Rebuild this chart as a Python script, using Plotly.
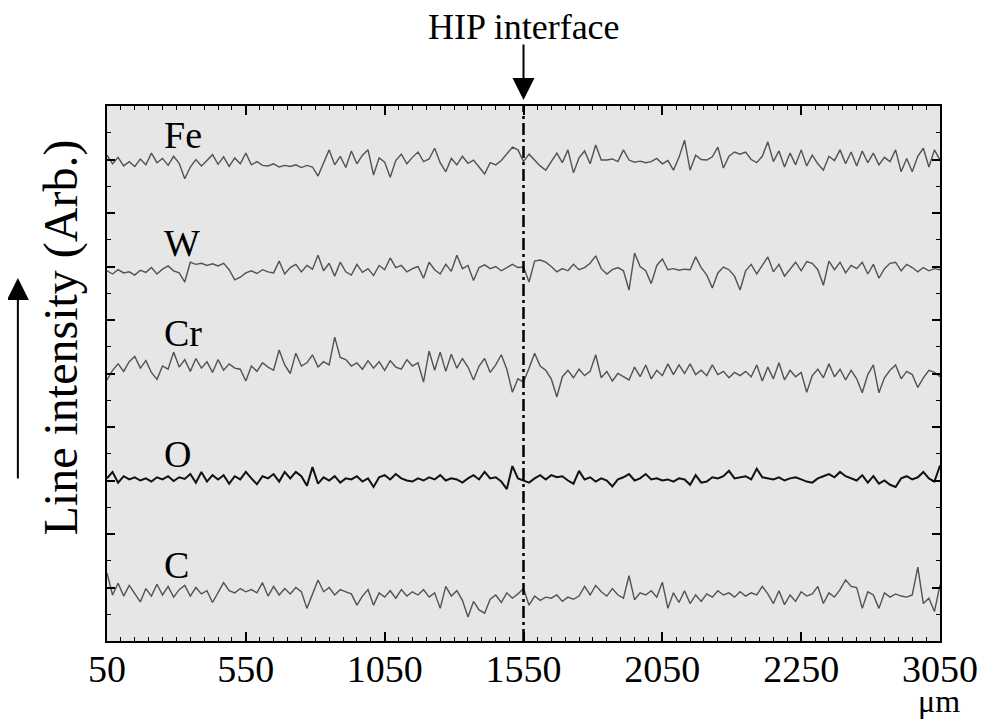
import plotly.graph_objects as go

# EPMA line scan across the HIP interface (arbitrary intensity, traces stacked)
positions = list(range(50, 3051, 20))  # um

fe = [90.8, 89.2, 90.4, 88.8, 89.6, 88.7, 90.1, 89.0, 91.2, 89.4,
      90.2, 88.9, 90.6, 89.3, 86.4, 88.6, 90.0, 88.8, 89.8, 90.9,
      89.1, 90.5, 88.7, 90.3, 89.2, 91.2, 89.0, 89.6, 88.9, 88.8,
      89.2, 88.6, 88.9, 88.7, 89.0, 88.5, 88.9, 88.6, 86.9, 89.4,
      91.8, 89.0, 90.6, 88.5, 91.6, 89.2, 90.8, 91.8, 87.1, 90.3,
      89.5, 86.7, 89.8, 91.0, 89.2, 90.4, 91.4, 89.6, 90.1, 92.1,
      89.4, 87.7, 90.2, 89.0, 90.6, 89.3, 89.9, 88.6, 87.3, 89.4,
      89.0, 89.8, 91.0, 92.3, 91.8, 89.6, 91.0, 89.8, 88.8, 88.0,
      89.6, 91.2, 89.4, 91.8, 87.5, 90.3, 91.6, 89.2, 92.7, 89.9,
      89.9, 90.1, 89.6, 91.8, 89.9, 89.5, 89.7, 89.4, 89.6, 90.2,
      89.2, 89.8, 88.0, 90.4, 93.6, 88.0, 90.8, 90.0, 89.9, 90.5,
      92.3, 88.4, 90.6, 91.4, 91.0, 91.4, 90.0, 89.4, 90.6, 93.3,
      89.6, 91.6, 88.6, 91.2, 89.0, 91.8, 88.8, 90.8, 89.2, 88.0,
      90.6, 89.8, 91.8, 89.2, 91.4, 88.8, 91.6, 89.4, 91.2, 89.0,
      90.4, 89.6, 91.8, 87.7, 90.2, 87.7, 90.6, 92.1, 88.6, 91.8,
      89.9]

w = [69.2, 68.6, 69.4, 68.8, 69.0, 68.4, 69.3, 68.9, 69.8, 68.6,
     69.5, 70.1, 69.2, 68.8, 67.1, 70.8, 70.4, 70.6, 70.2, 70.5,
     70.1, 70.6, 69.4, 67.5, 68.0, 68.8, 69.2, 68.7, 69.4, 69.0,
     68.8, 71.0, 68.6, 69.8, 70.4, 69.0, 70.2, 69.5, 72.1, 69.2,
     70.6, 68.2, 70.8, 69.0, 68.4, 70.4, 68.9, 69.6, 68.3, 70.2,
     69.4, 71.6, 69.8, 70.2, 69.0, 69.6, 70.0, 67.8, 70.8, 69.4,
     68.6, 70.4, 69.1, 72.1, 69.6, 70.2, 67.4, 69.8, 70.3, 69.6,
     70.0, 69.2, 69.8, 70.4, 69.8, 69.9, 67.1, 71.0, 71.2, 70.8,
     70.0, 69.0, 69.6, 69.2, 70.4, 69.4, 69.8, 70.6, 72.0, 69.6,
     68.6, 69.4, 69.8, 69.2, 65.6, 72.5, 70.0, 69.2, 66.8, 70.2,
     71.4, 69.4, 69.6, 69.3, 69.5, 69.4, 71.8, 69.8, 68.4, 66.0,
     68.8, 69.9, 69.4, 68.2, 65.6, 69.2, 70.4, 68.6, 70.2, 71.8,
     69.0, 70.4, 68.2, 69.6, 70.8, 69.2, 70.9, 70.6, 69.4, 66.5,
     71.0, 69.4, 70.8, 68.8, 70.2, 69.6, 70.8, 68.6, 70.4, 67.8,
     69.6, 70.6, 70.8, 69.2, 70.4, 69.8, 69.0, 69.8, 69.2, 69.6,
     69.4]

cr = [48.8, 50.6, 51.8, 50.4, 52.2, 53.2, 51.0, 52.4, 50.2, 48.9,
      51.4, 50.8, 54.0, 51.2, 52.6, 50.4, 52.8, 51.0, 52.2, 50.2,
      52.6, 50.6, 51.8, 51.0, 50.8, 48.6, 51.4, 50.4, 52.0, 51.2,
      50.6, 54.4, 51.6, 50.0, 53.8, 51.4, 52.0, 53.5, 51.2, 52.2,
      51.6, 56.8, 53.0, 52.6, 51.4, 52.0, 50.8, 52.4, 51.0, 52.2,
      50.6, 52.4, 51.2, 50.8, 52.6, 51.4, 52.0, 48.4, 54.2, 50.6,
      54.0, 50.4, 53.6, 51.0, 52.8, 51.2, 48.8, 51.4, 52.8, 50.2,
      51.6, 53.5, 50.8, 46.5, 49.0, 48.4, 51.0, 53.8, 51.4, 50.6,
      49.0, 45.6, 49.4, 50.6, 49.2, 50.8, 49.6, 50.4, 53.5, 49.2,
      50.4, 48.6, 50.0, 49.4, 48.8, 51.2, 49.4, 51.6, 49.0, 50.6,
      49.6, 51.8, 49.8, 51.6, 50.0, 51.8, 49.8, 50.6, 49.6, 51.6,
      49.8, 50.4, 49.2, 50.2, 49.6, 50.4, 49.4, 51.6, 48.6, 51.2,
      49.0, 52.0, 48.8, 50.6, 49.4, 50.2, 46.5, 49.6, 50.8, 49.2,
      51.8, 49.4, 50.8, 48.8, 50.6, 49.0, 46.4, 49.8, 51.6, 46.4,
      49.2, 50.6, 51.6, 49.0, 50.4, 49.8, 47.4, 49.2, 50.6, 50.2,
      49.4]

o = [30.4, 31.6, 29.6, 30.8, 30.2, 30.6, 30.0, 30.4, 29.8, 30.6,
     30.2, 30.8, 29.9, 30.6, 30.3, 31.2, 29.6, 31.6, 29.8, 31.0,
     30.2, 31.0, 29.4, 30.8, 30.2, 31.6, 30.4, 29.3, 30.8, 30.4,
     31.2, 29.8, 31.6, 30.4, 31.6, 30.8, 29.0, 32.5, 29.4, 30.6,
     30.0, 30.8, 29.6, 30.4, 30.2, 30.8, 29.8, 30.4, 28.8, 30.6,
     31.0, 30.2, 31.2, 30.4, 30.0, 29.8, 30.4, 30.0, 30.6, 30.2,
     31.0, 30.0, 30.4, 30.2, 29.6, 30.4, 31.0, 30.2, 31.6, 30.4,
     30.6, 29.8, 28.4, 32.7, 30.4, 30.0, 29.6, 30.4, 31.0, 30.2,
     31.0, 30.6, 30.8, 30.0, 29.4, 31.8, 30.2, 30.6, 29.8, 30.4,
     30.0, 28.9, 30.2, 30.6, 31.2, 30.0, 30.4, 31.2, 30.2, 30.4,
     30.0, 30.2, 29.8, 30.4, 30.2, 29.2, 31.0, 29.6, 29.8, 30.6,
     30.4, 30.8, 31.8, 30.4, 30.6, 30.8, 30.2, 32.2, 30.6, 30.4,
     30.2, 30.6, 30.0, 30.4, 30.6, 30.2, 29.8, 29.6, 30.4, 30.8,
     31.2, 30.6, 31.6, 30.8, 30.4, 30.0, 31.0, 29.6, 30.8, 29.4,
     30.0, 29.2, 28.8, 30.4, 30.8, 30.2, 30.6, 31.6, 30.4, 29.8,
     32.8]

c = [12.7, 8.6, 10.8, 8.4, 10.4, 8.8, 7.3, 9.8, 8.4, 10.6,
     8.6, 10.2, 8.2, 9.6, 10.4, 8.4, 10.0, 8.8, 9.4, 7.2,
     9.2, 10.9, 9.4, 9.0, 9.8, 9.2, 9.6, 9.0, 10.9, 8.4,
     10.2, 8.6, 9.8, 8.8, 10.0, 9.2, 6.1, 8.8, 11.4, 9.2,
     10.0, 8.6, 9.6, 9.2, 8.8, 6.7, 8.4, 9.6, 6.7, 9.0,
     8.2, 9.4, 8.0, 9.6, 8.4, 9.2, 8.6, 9.6, 8.2, 9.0,
     6.1, 10.2, 8.4, 9.4, 7.6, 4.5, 7.4, 5.8, 5.2, 7.8,
     8.6, 7.2, 9.0, 8.0, 8.8, 9.8, 6.7, 8.4, 7.6, 8.2,
     8.0, 8.6, 7.4, 8.2, 7.8, 8.4, 10.2, 8.6, 10.4, 9.2,
     8.4, 9.8, 8.6, 8.0, 12.2, 7.7, 9.0, 8.6, 9.4, 8.2,
     11.0, 6.1, 9.0, 7.2, 9.4, 7.0, 8.6, 7.4, 8.8, 8.2,
     9.4, 8.6, 9.0, 8.2, 9.2, 8.4, 9.0, 8.6, 10.2, 8.8,
     7.0, 9.4, 6.8, 8.6, 7.4, 9.2, 8.4, 8.8, 10.2, 7.0,
     9.0, 8.2, 9.6, 11.4, 10.2, 10.0, 6.1, 9.2, 8.6, 6.1,
     9.0, 8.2, 8.8, 8.4, 8.2, 8.6, 13.8, 7.0, 8.0, 5.5,
     10.5]

elements = ["Fe", "W", "Cr", "O", "C"]
label_y = [94.6, 74.4, 57.6, 35.0, 14.2]
series = [fe, w, cr, o, c]

interface_x = 1550

for s in series:
    assert len(s) == len(positions)

SERIF = "Liberation Serif"

fig = go.Figure()

for name, vals in zip(elements, series):
    if name == "O":
        line = dict(color="#111111", width=2.0)
    else:
        line = dict(color="#525252", width=1.4)
    fig.add_trace(go.Scatter(x=positions, y=vals, mode="lines", name=name,
                             line=line, showlegend=False, hoverinfo="skip"))

fig.add_vline(x=interface_x, line=dict(color="black", width=2.5,
                                       dash="12px,4px,3px,4px"))

annotations = []
for name, ly in zip(elements, label_y):
    annotations.append(dict(x=247, y=ly, xref="x", yref="y", text=name,
                            showarrow=False, xanchor="left", yanchor="middle",
                            font=dict(family=SERIF, size=38, color="black")))

annotations += [
    dict(x=interface_x, y=1.1477, xref="x", yref="paper", text="HIP interface",
         showarrow=False, xanchor="center", yanchor="middle",
         font=dict(family=SERIF, size=36, color="black")),
    dict(x=interface_x, y=1.011, xref="x", yref="paper", text="",
         showarrow=True, ax=0, ay=-57, arrowhead=2, arrowsize=2.2,
         arrowwidth=2, arrowcolor="black"),
    dict(x=-0.0548, y=0.568, xref="paper", yref="paper",
         text="Line intensity (Arb.)", textangle=-90, showarrow=False,
         xanchor="center", yanchor="middle",
         font=dict(family=SERIF, size=48, color="black")),
    dict(x=-0.107, y=0.6785, xref="paper", yref="paper", text="",
         showarrow=True, ax=0, ay=202, arrowhead=2, arrowsize=2.2,
         arrowwidth=2, arrowcolor="black"),
    dict(x=3045, y=-0.112, xref="x", yref="paper", text="μm",
         showarrow=False, xanchor="center", yanchor="middle",
         font=dict(family=SERIF, size=32, color="black")),
]

# the page body adds an 8px offset, so size the figure to land the plot
# area on x 107..946, y 106..641 of the window
fig.update_layout(
    width=982, height=713,
    margin=dict(l=99, r=44, t=98, b=80),
    paper_bgcolor="white",
    plot_bgcolor="#e6e6e6",
    annotations=annotations,
    xaxis=dict(
        range=[50, 3050], tickmode="linear", tick0=50, dtick=500,
        tickformat="d", labelalias={"2550": "2250"},
        ticks="inside", ticklen=9, tickwidth=1.5, tickcolor="black",
        showline=True, linewidth=1.5, linecolor="black", mirror="ticks",
        showgrid=False, zeroline=False, ticklabelstandoff=-6,
        tickfont=dict(family=SERIF, size=38, color="black"),
        minor=dict(dtick=50, ticks="inside", ticklen=4, tickwidth=1,
                   tickcolor="black", showgrid=False),
    ),
    yaxis=dict(
        range=[0, 100], tick0=0, dtick=10, showticklabels=False,
        ticks="inside", ticklen=8, tickwidth=1.5, tickcolor="black",
        showline=True, linewidth=1.5, linecolor="black", mirror="ticks",
        showgrid=False, zeroline=False,
        minor=dict(dtick=5, ticks="inside", ticklen=4, tickwidth=1,
                   tickcolor="black", showgrid=False),
    ),
)

fig.write_html("out.html")
